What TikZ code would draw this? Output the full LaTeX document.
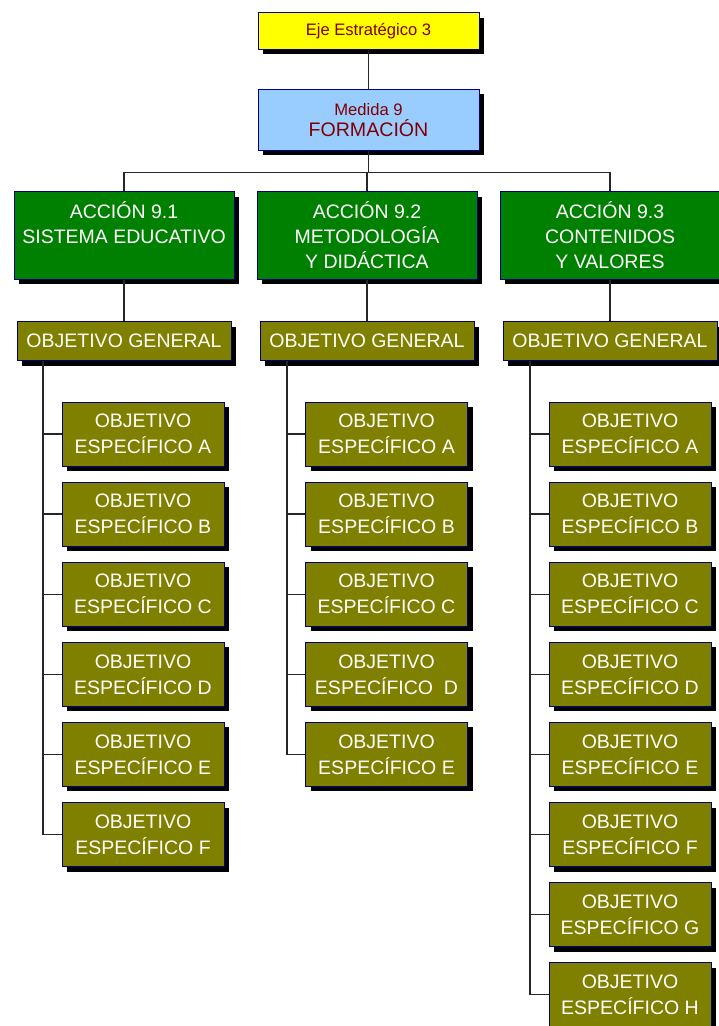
\documentclass[tikz,border=0pt]{standalone}
\usepackage{fontspec}
\setmainfont{Liberation Sans}
\usetikzlibrary{shadows}
\definecolor{navyb}{HTML}{000080}
\definecolor{ejeyel}{HTML}{FFFF00}
\definecolor{medblue}{HTML}{99CCFF}
\definecolor{accgreen}{HTML}{008000}
\definecolor{objolive}{HTML}{808000}
\definecolor{darkred}{HTML}{800000}
\begin{document}
\begin{tikzpicture}[x=1pt,y=-1pt,
  box/.style={draw=navyb, line width=0.9pt, inner sep=0pt, align=center,
    drop shadow={shadow xshift=5pt, shadow yshift=-5pt, fill=black, opacity=1}},
  ejebox/.style={box, fill=ejeyel, text=darkred, minimum width=221pt, minimum height=36.5pt,
    font=\fontsize{16.6}{20}\selectfont},
  medbox/.style={box, fill=medblue, text=darkred, minimum width=221pt, minimum height=61pt,
    font=\fontsize{19.6}{21}\selectfont},
  accbox/.style={box, fill=accgreen, text=white, minimum width=220pt, minimum height=87.5pt,
    font=\fontsize{19.5}{25}\selectfont},
  genbox/.style={box, fill=objolive, text=white, minimum width=214pt, minimum height=39pt,
    font=\fontsize{19.5}{25}\selectfont},
  espbox/.style={box, fill=objolive, text=white, minimum width=162pt, minimum height=64pt,
    font=\fontsize{19.5}{26}\selectfont},
  conn/.style={draw=black!85, line width=1.4pt}
]
\useasboundingbox (0,0) rectangle (719,1026);

\node[ejebox] (eje) at (368.5,31) {Eje Estratégico 3};
\node[medbox] (med) at (368.5,119.6) {{\fontsize{16.6}{21}\selectfont Medida 9}\\FORMACIÓN};

\node[accbox] (a1) at (124,235.5) {ACCIÓN 9.1\\SISTEMA EDUCATIVO\\\phantom{Y VALORES}};
\node[accbox] (a2) at (367,235.5) {ACCIÓN 9.2\\METODOLOGÍA\\Y DIDÁCTICA};
\node[accbox] (a3) at (610,235.5) {ACCIÓN 9.3\\CONTENIDOS\\Y VALORES};

\node[genbox] (g1) at (124,341) {OBJETIVO GENERAL};
\node[genbox] (g2) at (367,341) {OBJETIVO GENERAL};
\node[genbox] (g3) at (610,341) {OBJETIVO GENERAL};

\coordinate (bus) at (368.5,172.5);
\coordinate (t1) at (43,360.5);
\coordinate (t2) at (287,360.5);
\coordinate (t3) at (530,360.5);

% column 1
\foreach \l [count=\i from 0] in {A,B,C,D,E,F}
  \node[espbox] (s1\l) at (143,434+80.1*\i) {OBJETIVO\\ESPECÍFICO \l};
% column 2
\node[espbox] (s2A) at (386.5,434) {OBJETIVO\\ESPECÍFICO A};
\node[espbox] (s2B) at (386.5,514.1) {OBJETIVO\\ESPECÍFICO B};
\node[espbox] (s2C) at (386.5,594.2) {OBJETIVO\\ESPECÍFICO C};
\node[espbox] (s2D) at (386.5,674.3) {OBJETIVO\\ESPECÍFICO\ \ D};
\node[espbox] (s2E) at (386.5,754.4) {OBJETIVO\\ESPECÍFICO E};
% column 3
\foreach \l [count=\i from 0] in {A,B,C,D,E,F,G,H}
  \node[espbox] (s3\l) at (630,434+80.1*\i) {OBJETIVO\\ESPECÍFICO \l};

% connectors
\draw[conn] (eje) -- (med);
\draw[conn] (med) -- (bus);
\draw[conn] (a1.north) -- (a1.north |- bus) -- (a3.north |- bus) -- (a3.north);
\draw[conn] (a2.north) -- (a2.north |- bus);
\draw[conn] (a1) -- (g1);
\draw[conn] (a2) -- (g2);
\draw[conn] (a3) -- (g3);
\draw[conn] (t1) |- (s1F.west);
\foreach \l in {A,B,C,D,E}
  \draw[conn] (t1 |- s1\l.west) -- (s1\l.west);
\draw[conn] (t2) |- (s2E.west);
\foreach \l in {A,B,C,D}
  \draw[conn] (t2 |- s2\l.west) -- (s2\l.west);
\draw[conn] (t3) |- (s3H.west);
\foreach \l in {A,B,C,D,E,F,G}
  \draw[conn] (t3 |- s3\l.west) -- (s3\l.west);
\end{tikzpicture}
\end{document}
